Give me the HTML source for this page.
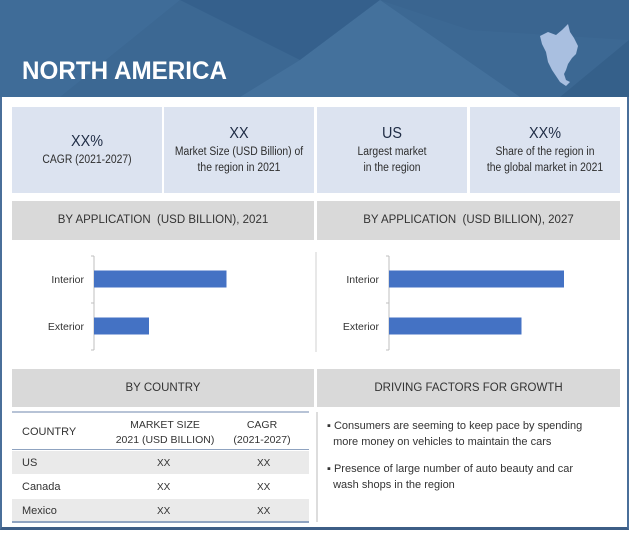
<!DOCTYPE html>
<html><head><meta charset="utf-8">
<style>
*{margin:0;padding:0;box-sizing:border-box}
body{width:629px;height:538px;background:#fff;font-family:"Liberation Sans",sans-serif;position:relative;overflow:hidden}
.a{position:absolute}
.stat{position:absolute;top:107px;height:86px;background:#dce3f0;text-align:center;color:#2d2d2d;font-size:11.5px;line-height:16px;display:flex;flex-direction:column;justify-content:center}
.stat span{display:block;transform:scaleX(0.9)}
.stat b{font-size:16px;font-weight:normal;color:#1f2c45;line-height:20px}
.gh{position:absolute;background:#d9d9d9;color:#333;font-size:11.5px;text-align:center}
.tc{position:absolute;font-size:11px;color:#333}
</style></head><body>
<div class="a" style="left:0;top:0;width:629px;height:530px;border:2px solid #4a6f9a;border-bottom:3px solid #3d5e86"></div>
<svg class="a" style="left:0;top:0" width="629" height="97">
<rect width="629" height="97" fill="#3c6893"/>
<polygon points="0,0 180,0 60,97 0,97" fill="#3f6c98"/>
<polygon points="180,0 380,0 300,60" fill="#35608c"/>
<polygon points="300,60 380,0 520,97 240,97" fill="#44719c"/>
<polygon points="380,0 629,0 629,40 470,30" fill="#3a6590"/>
<polygon points="560,97 629,40 629,97" fill="#35608a"/>
<g fill="#a9bfe0">
<path d="M540,36 L548,32 L556,35 L562,30 L568,24 L570,32 L574,38 L578,46 L576,54 L572,58 L568,64 L566,70 L564,74 L566,80 L570,82 L566,86 L560,82 L556,76 L552,70 L548,62 L546,52 L542,44 Z"/>
</g>
<text x="22" y="79" fill="#fff" font-family="Liberation Sans" font-weight="bold" font-size="25" textLength="205" lengthAdjust="spacingAndGlyphs">NORTH AMERICA</text>
</svg>

<div class="stat" style="left:12px;width:150px"><span><b>XX%</b><br>CAGR (2021-2027)</span></div>
<div class="stat" style="left:164px;width:150px"><span><b>XX</b><br>Market Size (USD Billion) of<br>the region in 2021</span></div>
<div class="stat" style="left:317px;width:150px"><span><b>US</b><br>Largest market<br>in the region</span></div>
<div class="stat" style="left:470px;width:150px"><span><b>XX%</b><br>Share of the region in<br>the global market in 2021</span></div>

<div class="gh" style="left:12px;top:201px;width:302px;height:39px;line-height:39px">BY APPLICATION &nbsp;(USD BILLION), 2021</div>
<div class="gh" style="left:317px;top:201px;width:303px;height:39px;line-height:39px">BY APPLICATION &nbsp;(USD BILLION), 2027</div>

<svg class="a" id="charts" style="left:0;top:0" width="629" height="538"></svg>

<div class="gh" style="left:12px;top:369px;width:302px;height:38px;line-height:38px">BY COUNTRY</div>
<div class="gh" style="left:317px;top:369px;width:303px;height:38px;line-height:38px">DRIVING FACTORS FOR GROWTH</div>

<div class="a" style="left:12px;top:411px;width:297px;height:112px">
<div class="a" style="left:0;top:0;width:297px;height:2px;background:#b7c3d6"></div>
<div class="a" style="left:0;top:38px;width:297px;height:1px;background:#8fa3c0"></div>
<div class="a" style="left:0;top:40px;width:297px;height:23px;background:#eaeaea"></div>
<div class="a" style="left:0;top:88px;width:297px;height:22px;background:#eaeaea"></div>
<div class="a" style="left:0;top:110px;width:297px;height:2px;background:#8fa3c0"></div>
</div>
<div class="tc" style="left:22px;top:426px">COUNTRY</div>
<div class="tc" style="left:110px;top:418px;width:110px;text-align:center;line-height:15px;font-size:10.5px">MARKET SIZE<br>2021 (USD BILLION)</div>
<div class="tc" style="left:222px;top:418px;width:80px;text-align:center;line-height:15px;font-size:10.5px">CAGR<br>(2021-2027)</div>
<div class="tc" style="left:22px;top:457px">US</div>
<div class="tc" style="left:157px;top:458px;font-size:10px">XX</div>
<div class="tc" style="left:257px;top:458px;font-size:10px">XX</div>
<div class="tc" style="left:22px;top:481px">Canada</div>
<div class="tc" style="left:157px;top:482px;font-size:10px">XX</div>
<div class="tc" style="left:257px;top:482px;font-size:10px">XX</div>
<div class="tc" style="left:22px;top:505px">Mexico</div>
<div class="tc" style="left:157px;top:506px;font-size:10px">XX</div>
<div class="tc" style="left:257px;top:506px;font-size:10px">XX</div>

<div class="a" style="left:316px;top:412px;width:2px;height:110px;background:#ddd"></div>
<div class="a" style="left:327px;top:418px;font-size:11px;line-height:16px;color:#333;width:295px">▪ Consumers are seeming to keep pace by spending<br>&nbsp;&nbsp;more money on vehicles to maintain the cars</div>
<div class="a" style="left:327px;top:461px;font-size:11px;line-height:16px;color:#333;width:295px">▪ Presence of large number of auto beauty and car<br>&nbsp;&nbsp;wash shops in the region</div>

<script>
const categories = ["Interior", "Exterior"];
const values2021 = [5.3, 2.2];
const values2027 = [7.0, 5.3];
const svg = document.getElementById('charts');
const NS = 'http://www.w3.org/2000/svg';
function mk(tag, attrs){const e=document.createElementNS(NS,tag);for(const k in attrs)e.setAttribute(k,attrs[k]);svg.appendChild(e);return e;}
function xScale(x0, v){return x0 + v*25;}
function yTick(i){return 256 + i*47;}
function yCenter(i){return yTick(i) + 23;}
function drawChart(x0, vals, key){
  mk('line',{x1:x0,y1:yTick(0),x2:x0,y2:yTick(categories.length),stroke:'#bfbfbf','stroke-width':1});
  for(let t=0;t<=categories.length;t++){mk('line',{x1:x0-3,y1:yTick(t),x2:x0,y2:yTick(t),stroke:'#bfbfbf'});}
  categories.forEach((c,i)=>{
    const yc = yCenter(i);
    const r = mk('rect',{x:x0,y:yc-8.5,width:xScale(x0,vals[i])-x0,height:17,fill:'#4472c4'});
    
    
    const t = mk('text',{x:x0-10,y:yc+4,'text-anchor':'end','font-size':'10.5','font-family':'Liberation Sans',fill:'#333'});
    t.textContent = c;
    
    
  });
}
drawChart(94, values2021, '2021');
drawChart(389, values2027, '2027');
mk('line',{x1:316,y1:252,x2:316,y2:352,stroke:'#d0d0d0','stroke-width':1});
</script>
</body></html>
